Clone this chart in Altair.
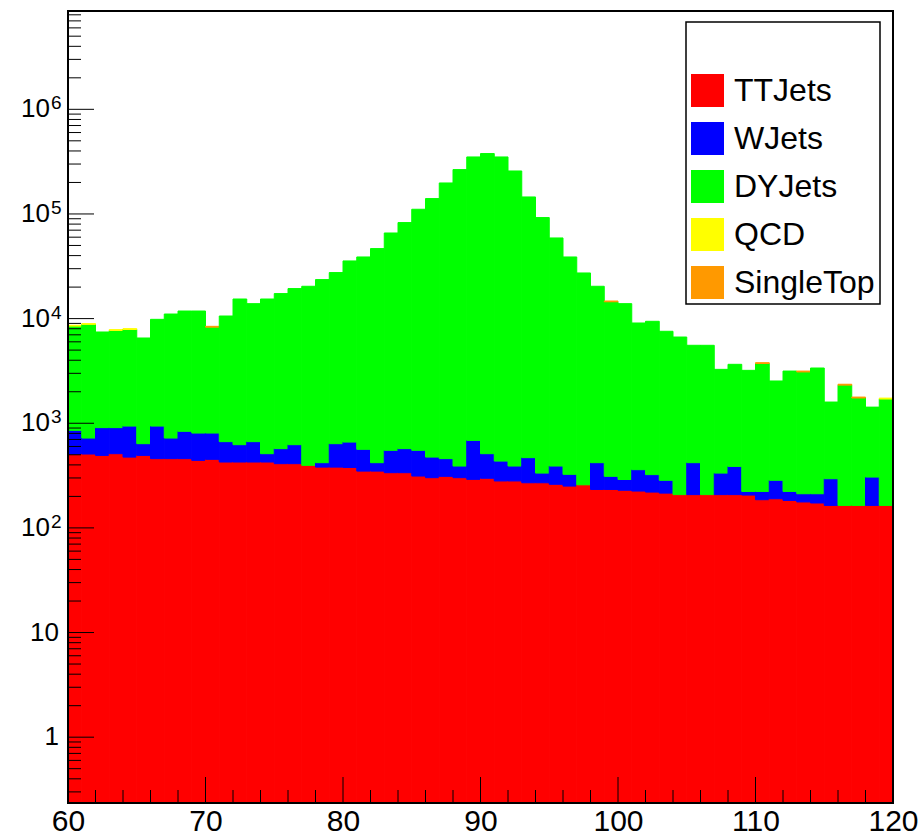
import altair as alt
import pandas as pd

# ---- data ----
bin_low = list(range(60, 120))  # 1 GeV bins from 60 to 120
processes = ["TTJets", "WJets", "DYJets", "QCD", "SingleTop"]
colors = ["#ff0000", "#0000ff", "#00ff00", "#ffff00", "#ff9900"]

ttjets = [508, 508, 493, 512, 475, 493, 459, 459, 459, 442,
          452, 426, 426, 426, 426, 411, 411, 396, 381, 381,
          378, 349, 349, 337, 337, 313, 302, 311, 302, 291,
          298, 281, 281, 270, 270, 261, 251, 258, 233, 233,
          229, 225, 220, 215, 208, 208, 208, 208, 208, 206,
          186, 190, 183, 177, 173, 164, 164, 164, 164, 164]

wjets = [347, 214, 415, 396, 465, 145, 481, 263, 378, 364,
         354, 241, 198, 241, 86, 161, 213, 0, 39, 257,
         283, 214, 71, 214, 235, 238, 173, 148, 88, 395,
         214, 154, 109, 199, 64, 129, 74, 0, 187, 78,
         61, 135, 103, 70, 0, 212, 0, 126, 179, 17,
         37, 95, 40, 35, 39, 131, 0, 0, 142, 0]

dyjets = [7630, 8090, 6540, 6790, 6930, 5890, 8900, 10340, 10980, 11010,
          7480, 9920, 14770, 13230, 14880, 16770, 18740, 19970, 23180, 26900,
          34920, 38260, 46260, 65240, 82180, 110350, 139830, 197340, 265110, 349910,
          377290, 350170, 257110, 144930, 92070, 58610, 38500, 27040, 19950, 14170,
          13610, 8720, 9100, 7280, 6460, 5140, 5350, 2940, 3270, 2980,
          3500, 2250, 2930, 2880, 3160, 1300, 2150, 1580, 1120, 1540]

qcd = [150, 150, 0, 150, 150, 0, 0, 0, 0, 0,
       0, 0, 0, 0, 0, 0, 0, 0, 0, 0,
       0, 0, 0, 0, 0, 0, 0, 0, 0, 0,
       0, 0, 0, 0, 0, 0, 0, 0, 0, 0,
       0, 0, 0, 0, 0, 0, 0, 0, 0, 0,
       0, 0, 0, 0, 0, 0, 0, 0, 0, 35]

singletop = [0, 0, 0, 0, 0, 0, 0, 0, 0, 0,
             150, 0, 0, 0, 0, 0, 0, 0, 0, 0,
             0, 0, 0, 0, 0, 0, 0, 0, 0, 0,
             0, 0, 0, 0, 0, 0, 0, 0, 0, 250,
             0, 0, 0, 0, 0, 0, 0, 0, 0, 0,
             70, 0, 0, 60, 0, 0, 45, 35, 0, 0]

x_ticks_major = [60, 70, 80, 90, 100, 110, 120]
x_ticks_minor = [v for v in range(62, 120, 2) if v % 10 != 0]
y_ticks_major = [1, 10, 100, 1000, 10000, 100000, 1000000]
y_ticks_minor = [m * 10 ** k for k in range(-1, 7) for m in range(2, 10)
                 if 0.235 < m * 10 ** k < 8.7e6]

# y tick labels: plain ones, and "10" with a raised exponent
y_plain_vals = [1, 10]
y_plain_text = ["1", "10"]
y_pow_vals = [100, 1000, 10000, 100000, 1000000]
y_pow_exp = ["2", "3", "4", "5", "6"]

Y_MIN, Y_MAX = 0.235, 8.7e6
W, H = 825, 792

# ---- stacked table ----
series = [ttjets, wjets, dyjets, qcd, singletop]
rows = []
for i, lo in enumerate(bin_low):
    base = 0.0
    for name, vals in zip(processes, series):
        v = vals[i]
        if v > 0:
            low = base if base > 0 else Y_MIN
            rows.append({"lo": lo, "hi": lo + 1, "process": name,
                         "low": low, "high": base + v})
            base += v
df = pd.DataFrame(rows)

xs = alt.Scale(domain=[60, 120], nice=False, zero=False)
ys = alt.Scale(type="log", domain=[Y_MIN, Y_MAX], nice=False)

x_axis = alt.Axis(values=x_ticks_major, labelFontSize=30, labelFont="Liberation Sans",
                  labelColor="black", labelPadding=3, ticks=False, tickSize=0,
                  domain=False, grid=False, labelFlush=False, labelOverlap=False,
                  title=None, zindex=1)
y_axis = alt.Axis(values=y_ticks_major, labels=False, ticks=False, tickSize=0,
                  domain=False, grid=False, title=None)

bars = alt.Chart(df).mark_rect(clip=True, strokeWidth=1).encode(
    x=alt.X("lo:Q", scale=xs, axis=x_axis),
    x2="hi:Q",
    y=alt.Y("low:Q", scale=ys, axis=y_axis),
    y2="high:Q",
    color=alt.Color("process:N", scale=alt.Scale(domain=processes, range=colors),
                    legend=alt.Legend(title=" ", orient="none", legendX=618, legendY=11,
                                      padding=5, titleFontSize=30, titlePadding=17,
                                      labelFontSize=32, labelFont="Liberation Sans",
                                      labelColor="black", labelLimit=300,
                                      symbolType="square", symbolSize=1089,
                                      symbolStrokeWidth=0, symbolOpacity=1,
                                      rowPadding=15, labelOffset=10,
                                      fillColor="white", strokeColor="black")),
    stroke=alt.Stroke("process:N", scale=alt.Scale(domain=processes, range=colors),
                      legend=None),
)

ytm = alt.Chart(pd.DataFrame({"v": y_ticks_major})).mark_rule(color="black", strokeWidth=1).encode(
    y=alt.Y("v:Q", scale=ys, axis=y_axis), x=alt.value(0), x2=alt.value(26))
ytn = alt.Chart(pd.DataFrame({"v": y_ticks_minor})).mark_rule(color="black", strokeWidth=1).encode(
    y=alt.Y("v:Q", scale=ys, axis=y_axis), x=alt.value(0), x2=alt.value(13))
xtm = alt.Chart(pd.DataFrame({"v": x_ticks_major})).mark_rule(color="black", strokeWidth=1).encode(
    x=alt.X("v:Q", scale=xs, axis=x_axis), y=alt.value(H), y2=alt.value(H - 26))
xtn = alt.Chart(pd.DataFrame({"v": x_ticks_minor})).mark_rule(color="black", strokeWidth=1).encode(
    x=alt.X("v:Q", scale=xs, axis=x_axis), y=alt.value(H), y2=alt.value(H - 13))

lab_plain = alt.Chart(pd.DataFrame({"v": y_plain_vals, "t": y_plain_text})).mark_text(
    align="right", baseline="middle", fontSize=26, font="Liberation Sans", color="black").encode(
    y=alt.Y("v:Q", scale=ys, axis=y_axis), x=alt.value(-9), text="t:N")
lab_base = alt.Chart(pd.DataFrame({"v": y_pow_vals})).mark_text(
    align="right", baseline="middle", fontSize=26, font="Liberation Sans", color="black",
    text="10").encode(
    y=alt.Y("v:Q", scale=ys, axis=y_axis), x=alt.value(-18))
lab_exp = alt.Chart(pd.DataFrame({"v": y_pow_vals, "e": y_pow_exp})).mark_text(
    align="left", baseline="middle", fontSize=19, font="Liberation Sans", color="black",
    dy=-6).encode(
    y=alt.Y("v:Q", scale=ys, axis=y_axis), x=alt.value(-17), text="e:N")

frame = alt.Chart(pd.DataFrame({"a": [0]})).mark_rect(
    fillOpacity=0, stroke="black", strokeWidth=2).encode(
    x=alt.value(0), x2=alt.value(W), y=alt.value(0), y2=alt.value(H))

chart = alt.layer(bars, ytm, ytn, xtm, xtn, lab_plain, lab_base, lab_exp, frame).properties(
    width=W, height=H,
    padding={"left": 68, "top": 11, "right": 30, "bottom": 36},
    autosize="none",
    background="white",
).configure_view(strokeWidth=0).configure_legend(strokeWidth=1.5)

chart.save("out.html", embed_options={"renderer": "svg", "actions": False})
